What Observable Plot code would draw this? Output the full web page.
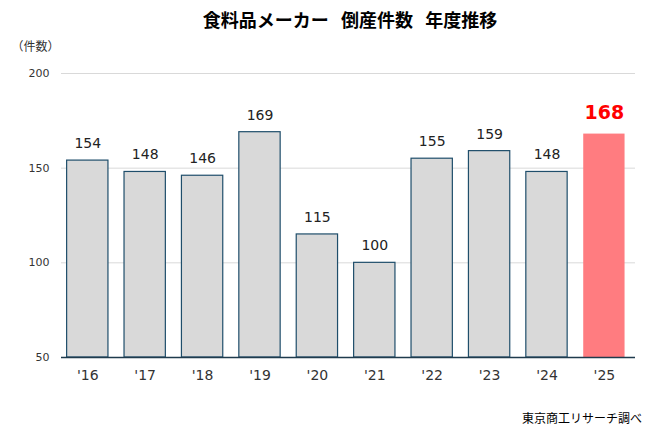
<!DOCTYPE html>
<html><head><meta charset="utf-8">
<script src="https://cdn.jsdelivr.net/npm/d3@7"></script>
<script src="https://cdn.jsdelivr.net/npm/@observablehq/plot@0.6"></script>
<style>
body{margin:0;background:#fff;font-family:"Noto Sans CJK JP",sans-serif;}
#wrap{width:659px;height:433px;position:relative;overflow:hidden;}
#title{height:32px;line-height:38px;text-align:center;padding-left:41px;box-sizing:border-box;width:659px;font-weight:bold;font-size:18px;color:#000;white-space:pre;}
#cap{height:33px;text-align:right;padding-right:17px;font-size:12px;line-height:36px;color:#000;}
</style></head>
<body><div id="wrap">
<div id="title">食料品メーカー   倒産件数   年度推移</div>
<div id="chart"></div>
<div id="cap">東京商工リサーチ調べ</div>
</div>
<script>
const years = ["'16","'17","'18","'19","'20","'21","'22","'23","'24","'25"];
const counts = [154,148,146,169,115,100,155,159,148,168];
const yTicks = [50,100,150,200];
const highlightYear = "'25";

const data = years.map((y,i)=>({year:y,count:counts[i],hl:y===highlightYear}));
const normal = data.filter(d=>!d.hl);
const hl = data.filter(d=>d.hl);

const chart = Plot.plot({
  width:659, height:368,
  marginTop:41, marginBottom:43, marginLeft:61, marginRight:24,
  style:{fontFamily:"'DejaVu Sans','Noto Sans CJK JP',sans-serif",color:"#333",background:"#fff"},
  x:{domain:years, paddingInner:0.28, paddingOuter:0.14, align:0.35, round:false, label:null},
  y:{domain:[50,200], ticks:yTicks, label:null},
  marks:[
    Plot.gridY(yTicks.filter(t=>t>50),{stroke:"#d9d9d9",strokeOpacity:1}),
    Plot.axisY({ticks:yTicks,tickSize:0,tickPadding:12,fontSize:11,label:null,tickFormat:d=>String(d)}),
    Plot.axisX({tickSize:0,tickPadding:13,fontSize:14,label:null}),
    Plot.rectY(normal,{x:"year",y1:50,y2:"count",fill:"#d9d9d9",stroke:"#1f4e6b",strokeWidth:1.2}),
    Plot.rectY(hl,{x:"year",y1:50,y2:"count",fill:"#ff7c80"}),
    Plot.ruleY([50],{stroke:"#1f3b4d",strokeWidth:1.5}),
    Plot.text(normal,{x:"year",y:"count",text:d=>String(d.count),dy:-17,fontSize:14,fill:"#222"}),
    Plot.text(hl,{x:"year",y:"count",text:d=>String(d.count),dy:-21,fontSize:19,fontWeight:"bold",fill:"#ff0000"}),
    Plot.text(["（件数）"],{frameAnchor:"top-left",textAnchor:"start",dx:-50,dy:-31,fontSize:12,fill:"#333",fontFamily:"Noto Sans CJK JP"})
  ]
});
document.getElementById("chart").appendChild(chart);
</script>
</body></html>
